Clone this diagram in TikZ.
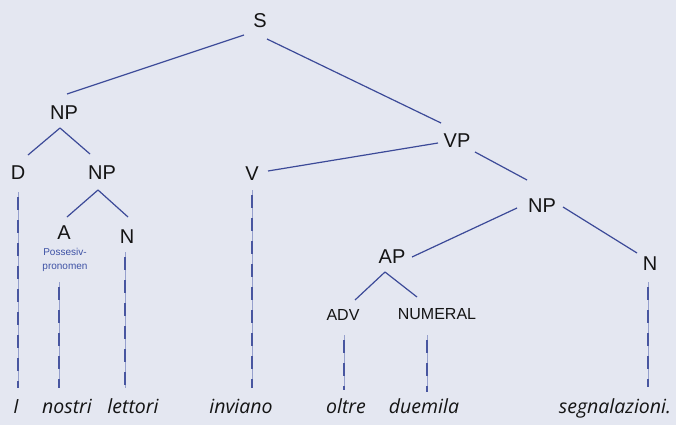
\documentclass[tikz,border=0pt]{standalone}
\usepackage{fontspec}
\setmainfont{Liberation Sans}
\newfontfamily\labfont{Liberation Sans}
\newfontfamily\wordfont{Open Sans}
\usetikzlibrary{calc}
\definecolor{bgc}{RGB}{228,231,241}
\definecolor{edgec}{RGB}{60,74,152}
\definecolor{dashc}{RGB}{72,86,160}
\definecolor{hairc}{RGB}{150,160,205}
\definecolor{possc}{RGB}{62,82,165}
\definecolor{labc}{RGB}{20,20,20}
\tikzset{
  lab/.style={font=\labfont\fontsize{20}{24}\selectfont, text=labc, inner sep=0pt, text height=14.5pt, text depth=0pt},
  smlab/.style={font=\labfont\fontsize{16}{19}\selectfont, text=labc, inner sep=0pt, text height=12pt, text depth=0pt},
  word/.style={font=\wordfont\itshape\fontsize{19.5}{23}\selectfont, text=labc, inner sep=0pt, text height=14pt, text depth=4pt},
  poss/.style={font=\labfont\fontsize{10}{13.5}\selectfont, text=possc, inner sep=0pt, align=center},
  edge/.style={draw=edgec, line width=1.2pt},
  dashln/.style={draw=dashc, line width=1.3pt, dash pattern=on 13pt off 10pt, dash phase=18pt,
    preaction={draw=hairc, line width=0.5pt, solid}}
}
\begin{document}
\begin{tikzpicture}[x=1pt,y=-1pt]
\fill[bgc] (0,0) rectangle (676,425);
\useasboundingbox (0,0) rectangle (676,425);
% labels
\node[lab] (S) at (260,20) {S};
\node[lab] (NPa) at (64,112) {NP};
\node[lab] (D) at (18,172) {D};
\node[lab] (NPb) at (102,172) {NP};
\node[lab] (A) at (64,232) {A};
\node[lab] (Na) at (127,236) {N};
\node[lab] (V) at (252,173) {V};
\node[lab] (VP) at (457,140) {VP};
\node[lab] (NPc) at (542,205) {NP};
\node[lab] (AP) at (392,256) {AP};
\node[lab] (Nb) at (650,263) {N};
\node[smlab] (ADV) at (343,314) {ADV};
\node[smlab] (NUM) at (437,313) {NUMERAL};
\node[poss] (P) at (65,260) {Possesiv-\\pronomen};
% words
\node[word] (wI) at (16,408) {I};
\node[word] (wnostri) at (67,408) {nostri};
\node[word] (wlettori) at (133,408) {lettori};
\node[word] (winviano) at (241,408) {inviano};
\node[word] (woltre) at (346,408) {oltre};
\node[word] (wduemila) at (424,408) {duemila};
\node[word] (wsegn) at (615,408) {segnalazioni.};
% edges
\draw[edge] ($(S)+(-16,15)$) -- ($(NPa)+(3,-18)$);
\draw[edge] ($(S)+(7,19)$) -- ($(VP)+(-16,-17)$);
\draw[edge] ($(NPa)+(-4,16)$) -- ($(D)+(10,-17)$);
\draw[edge] ($(NPa)+(-4,16)$) -- ($(NPb)+(-12,-18)$);
\draw[edge] ($(NPb)+(-4,18)$) -- ($(A)+(3,-15)$);
\draw[edge] ($(NPb)+(-4,18)$) -- ($(Na)+(1,-19)$);
\draw[edge] ($(VP)+(-19,3)$) -- ($(V)+(16,-2)$);
\draw[edge] ($(VP)+(18,12)$) -- ($(NPc)+(-15,-25)$);
\draw[edge] ($(NPc)+(-25,3)$) -- ($(AP)+(20,1)$);
\draw[edge] ($(NPc)+(21,2)$) -- ($(Nb)+(-13,-10)$);
\draw[edge] ($(AP)+(-7,16)$) -- ($(ADV)+(12,-14)$);
\draw[edge] ($(AP)+(-7,16)$) -- ($(NUM)+(-20,-16)$);
% dashed links
\draw[dashln] ($(D)+(0,20)$) -- ($(wI)+(2,-20)$);
\draw[dashln] ($(P)+(-6,22)$) -- ($(wnostri)+(-8,-20)$);
\draw[dashln] ($(Na)+(-2,16)$) -- ($(wlettori)+(-8,-20)$);
\draw[dashln] ($(V)+(0,17)$) -- ($(winviano)+(11,-20)$);
\draw[dashln] ($(ADV)+(1,21)$) -- ($(woltre)+(-2,-18)$);
\draw[dashln] ($(NUM)+(-10,22)$) -- ($(wduemila)+(3,-16)$);
\draw[dashln] ($(Nb)+(-2,19)$) -- ($(wsegn)+(33,-21)$);
\end{tikzpicture}
\end{document}
